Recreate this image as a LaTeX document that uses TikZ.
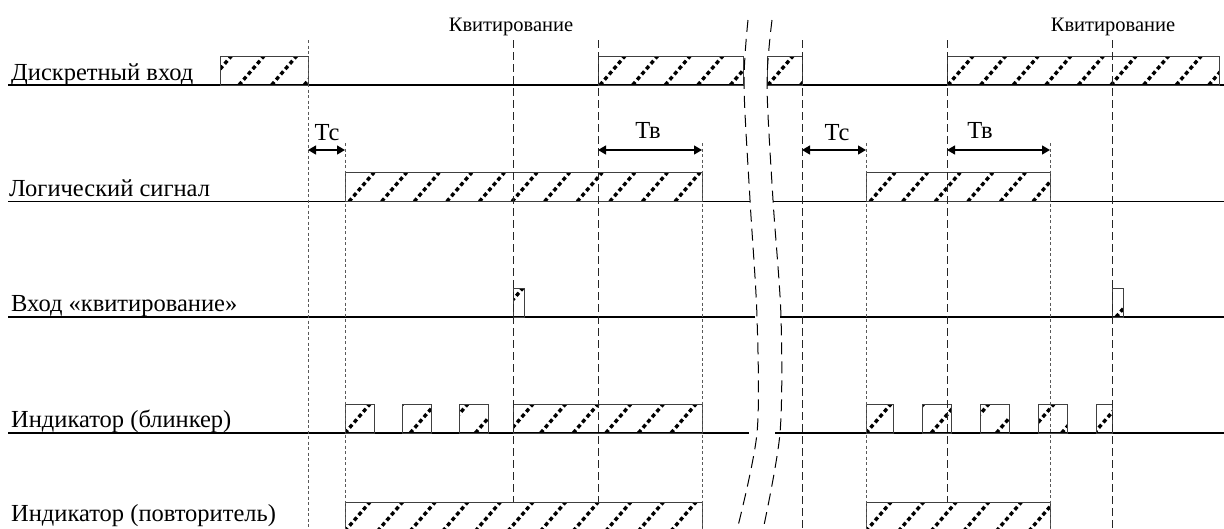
\documentclass[tikz,border=0pt]{standalone}
\usepackage{fontspec}
\setmainfont{Liberation Serif}
\usetikzlibrary{arrows.meta}
\newcommand\hatchrect[5]{% x1,x2,ytop,ybot,phase
  \begin{scope}
    \clip (#1,#3) rectangle (#2,#4);
    \pgfmathtruncatemacro\kstart{floor((#1-#5-30)/32.6)}
    \pgfmathtruncatemacro\kend{ceil((#2-#5)/32.6)}
    \foreach \k in {\kstart,...,\kend} {
      \draw[hatchline] ({#5+\k*32.6},#4) -- ++(25,{#3-#4});
    }
  \end{scope}
  \draw[boxline] (#1,#3) rectangle (#2,#4);
}
\begin{document}
\begin{tikzpicture}[x=1pt,y=-1pt,
  hatchline/.style={line width=3.4pt,dash pattern=on 4pt off 3pt,black},
  boxline/.style={line width=1pt,black!75},
  sigline/.style={line width=1.1pt,black},
  shortdash/.style={line width=1pt,black!65,dash pattern=on 3pt off 2.5pt},
  longdash/.style={line width=1pt,black!85,dash pattern=on 8pt off 4pt},
  breakline/.style={line width=1pt,black,dash pattern=on 12pt off 7pt},
  dimarrow/.style={line width=1.3pt,{Triangle[width=9pt,length=8pt]}-{Triangle[width=9pt,length=8pt]}},
  rowlabel/.style={anchor=base west,inner sep=0pt,font=\fontsize{24.5}{28}\selectfont},
  toplabel/.style={anchor=base,inner sep=0pt,font=\fontsize{20.5}{24}\selectfont},
  dimlabel/.style={anchor=base,inner sep=0pt,font=\fontsize{24.5}{28}\selectfont}]
\useasboundingbox (0,0) rectangle (1224,528);
\clip (0,0) rectangle (1224,528);
% row labels
\node[rowlabel] (l1) at (11,80) {Дискретный вход};
\node[rowlabel] (l2) at (9,196) {Логический сигнал};
\node[rowlabel] (l3) at (11,311) {Вход «квитирование»};
\node[rowlabel] (l4) at (11,427) {Индикатор (блинкер)};
\node[rowlabel] (l5) at (11,521) {Индикатор (повторитель)};
% top labels
\node[toplabel] (k1) at (511,31) {Квитирование};
\node[toplabel] (k2) at (1113,31) {Квитирование};
% signal lines
\draw[sigline] (8,85) -- (743,85) (767,85) -- (1224,85);
\draw[sigline] (8,201.5) -- (750,201.5) (773,201.5) -- (1224,201.5);
\draw[sigline] (8,317) -- (755,317) (780,317) -- (1224,317);
\draw[sigline] (8,433) -- (749,433) (775,433) -- (1224,433);
% row 1 boxes
\hatchrect{220}{308}{56}{85}{239}
\hatchrect{598}{743}{56}{85}{600}
\hatchrect{767}{802}{56}{85}{768}
\hatchrect{947}{1219}{56}{85}{948}
% row 2 boxes
\hatchrect{345}{702}{172.5}{201.5}{349}
\hatchrect{866}{1050}{172.5}{201.5}{870}
% row 3 boxes
\hatchrect{513}{524}{288}{317}{498}
\hatchrect{1112}{1123}{288}{317}{1116}
% row 4 boxes
\hatchrect{345}{374}{404}{433}{345}
\hatchrect{402}{431}{404}{433}{345}
\hatchrect{459}{488}{404}{433}{345}
\hatchrect{513}{702}{404}{433}{345}
\hatchrect{866}{893}{404}{433}{866}
\hatchrect{922}{951}{404}{433}{866}
\hatchrect{980}{1009}{404}{433}{866}
\hatchrect{1038}{1067}{404}{433}{866}
\hatchrect{1096}{1112}{404}{433}{866}
% row 5 boxes
\hatchrect{345}{702}{502}{531}{345}
\hatchrect{866}{1050}{502}{531}{866}
% vertical dashed lines
\draw[shortdash] (308,40) -- (308,530);
\draw[shortdash] (345,143) -- (345,530);
\draw[shortdash] (702,143) -- (702,530);
\draw[shortdash] (866,143) -- (866,530);
\draw[shortdash] (1050,143) -- (1050,530);
\draw[longdash] (513,40) -- (513,502);
\draw[longdash] (598,40) -- (598,502);
\draw[longdash] (802,40) -- (802,530);
\draw[longdash] (947,40) -- (947,502);
\draw[longdash] (1112,40) -- (1112,530);
% break curves
\draw[breakline] plot[smooth] coordinates {(748,20) (744,85) (750,200) (757,317) (757,433) (737,530)};
\draw[breakline] plot[smooth] coordinates {(772,20) (767,85) (773,200) (781,317) (780,433) (763,530)};
% dimension arrows
\coordinate (a1) at (308,150); \coordinate (b1) at (345,150);
\coordinate (a2) at (598,150); \coordinate (b2) at (702,150);
\coordinate (a3) at (802,150); \coordinate (b3) at (866,150);
\coordinate (a4) at (947,150); \coordinate (b4) at (1050,150);
\draw[dimarrow] (a1) -- (b1);
\draw[dimarrow] (a2) -- (b2);
\draw[dimarrow] (a3) -- (b3);
\draw[dimarrow] (a4) -- (b4);
\node[dimlabel] (t1) at (327,140) {Тс};
\node[dimlabel] (t2) at (648,138) {Тв};
\node[dimlabel] (t3) at (837,140) {Тс};
\node[dimlabel] (t4) at (980,138) {Тв};
\end{tikzpicture}
\end{document}
